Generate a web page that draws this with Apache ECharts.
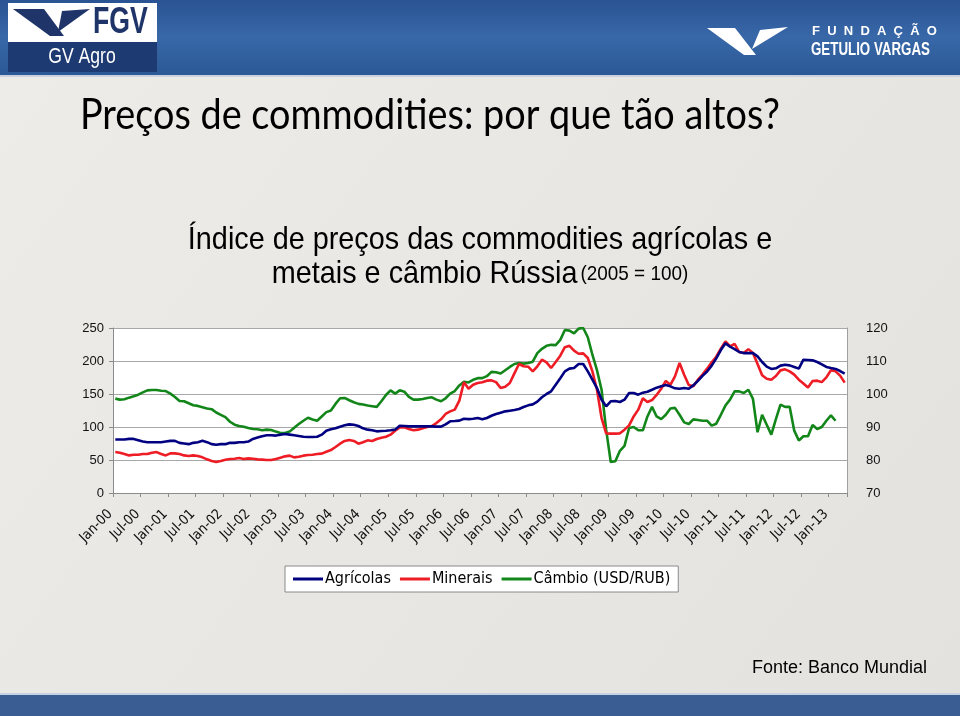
<!DOCTYPE html>
<html><head><meta charset="utf-8">
<script src="https://cdn.jsdelivr.net/npm/echarts@6/dist/echarts.min.js"></script>
<style>html,body{margin:0;padding:0;background:#e8e6e2}#c{width:960px;height:716px}</style>
</head><body><div id="c"></div>
<script>
// ---- data ----
const years = ['00','01','02','03','04','05','06','07','08','09','10','11','12','13'];
const monthNames = ['Jan','Fev','Mar','Abr','Mai','Jun','Jul','Ago','Set','Out','Nov','Dez'];
const categories = [];
for (const y of years) for (const m of monthNames) { if (categories.length < 160) categories.push(m + '-' + y); }

const agricolas = [
81,81,81,82,82,80,78,77,77,77,77,78,79,79,76,75,74,76,77,79,77,74,73,74,74,76,76,77,77,78,82,84,86,
87.4,87.4,87,88.4,89.4,88.4,87.4,86.4,85.3,84.8,84.8,85.3,88.4,94.4,96.5,98,100.5,102.5,104,103.5,101.5,98,96,95,93.4,94,94.4,95,96,102,
101.5,101,101,101,101,101,101,100.5,100.5,104,108.6,109,109.6,112.6,112,112.6,113.6,111.6,113.6,117,119.7,121.7,123.7,124.7,125.7,127.3,130.3,132.8,134.3,138.4,145,150,
154,164,174,184.3,188.4,189.4,195.4,195.4,184.3,171.7,159,141.4,131.3,139,139.4,137.9,141.4,151.5,151.5,149,152,153.5,156.5,159.6,161.6,163.6,161.6,158.6,158,159,158,
163,170,177.5,184,193,204,216.6,227,221.7,218,213.6,212,212,212,207,198.5,191.4,188,189,193,194.4,193.4,191,188.4,202,201.5,201,198.5,195,191,189.4,188,184.8,180.8
];
const minerais = [
62,61,59,57,58,58,59,59,61,62,59,57,60,60,59,57,56,57,56,54,51,48.5,47,48.5,50.5,51.5,52,53,51.5,52.5,52,51,50.5,
50,50,51.5,53.5,55.5,56.6,54,55,56.6,57.6,58,59,59.6,62.6,65,69.7,74.7,78.8,80.3,78.8,74.7,76.8,79.8,78.8,81.8,83.8,85.3,88.4,94.4,99.5,
99.5,97,95,96,98,100,101.5,106,111.6,119.7,123.7,126.3,140,168,158,164,166.6,167.7,170.2,170.7,168,159,161,166.6,181.3,195.4,192,191.4,184.3,192,202,198,
189.4,198.5,208,221,223,215.6,211,211.6,204.5,184.3,156.5,113.6,90.4,90,90,90.4,96,102.5,116,126.3,143.4,137.9,140.9,148.5,158,169.7,164,176.8,197,179.3,163.6,
161.6,171.7,179.3,188.4,198,206.5,218.7,229.8,222,226,213.6,212,218,212,195.4,178.3,173.2,171.7,177.2,185.8,187.4,184.3,179.3,171.7,166,160,169.7,170.2,168,175.2,186,184.3,177.8,167.2
];
const cambio = [
98.6,98.3,98.4,98.9,99.3,99.8,100.5,101.1,101.2,101.2,101,100.9,100.1,99.1,97.9,97.8,97.2,96.6,96.4,96,95.6,95.4,94.4,93.7,93,91.6,90.7,90.3,90.1,89.7,89.4,89.3,89,
89.2,89.1,88.6,88.2,88.2,88.6,89.8,90.9,91.9,92.8,92.3,91.9,93.2,94.5,95,97,98.7,98.8,98.1,97.5,97,96.8,96.5,96.3,96.1,97.8,99.7,101.1,100.1,101.1,
100.7,99.1,98.3,98.3,98.5,98.8,99,98.3,97.8,98.7,100.1,100.9,102.6,103.7,103.5,104.3,104.8,104.8,105.4,106.7,106.6,106.2,107.2,108.2,109.1,109.4,109.2,109.4,109.8,112.4,113.7,114.6,
114.9,114.8,116.4,119.4,119.2,118.4,119.8,120,117.2,111.9,107.2,101.3,89.2,79.4,79.6,82.8,84.3,89.7,90,89,89,93.2,96.1,93.2,92.4,93.7,95.6,95.8,93.7,91.4,90.9,
92.3,92.1,91.9,91.9,90.4,91,93.7,96.5,98.3,100.8,100.8,100.3,101.3,98.5,88.4,93.7,90.7,87.7,92.4,96.8,96.1,96.1,88.9,85.9,87.2,87.2,90.6,89.4,90,91.9,93.5,91.9,null,null
];
const seriesNames = ['Agrícolas','Minerais','Câmbio (USD/RUB)'];
const leftTicks = {min:0, max:250, interval:50};
const rightTicks = {min:70, max:120, interval:10};

// ---- fonts & colours ----
const ARIAL = "'Liberation Sans',Arial,sans-serif";
const COND = "'DejaVu Sans Condensed','Liberation Sans',sans-serif";
const TITLE = "Lato,'Open Sans',sans-serif";
const navy = '#1f3468';

const chart = echarts.init(document.getElementById('c'), null, {renderer:'canvas'});
const option = {
  animation: false,
  backgroundColor: '#e8e6e2',
  graphic: [
    {type:'rect', shape:{x:0,y:0,width:960,height:716}, style:{fill:new echarts.graphic.LinearGradient(0,0,1,1,[{offset:0,color:'#eeece9'},{offset:1,color:'#e4e2de'}])}, z:-10},
    {type:'rect', shape:{x:0,y:0,width:960,height:75}, style:{fill:new echarts.graphic.LinearGradient(0,0,0,1,[{offset:0,color:'#2a5393'},{offset:0.5,color:'#3868a8'},{offset:1,color:'#2b5896'}])}, z:-9},
    {type:'rect', shape:{x:0,y:75,width:960,height:2}, style:{fill:'#c9d2de'}, z:-9},
    // left logo
    {type:'rect', shape:{x:8,y:3,width:149,height:39}, style:{fill:'#ffffff'}, z:-8},
    {type:'rect', shape:{x:8,y:42,width:149,height:30}, style:{fill:'#1d3a73'}, z:-8},
    {type:'polygon', shape:{points:[[13,9],[44,9],[64,36],[50,36]]}, style:{fill:navy}, z:-7},
    {type:'polygon', shape:{points:[[62,11],[90,9],[58,32]]}, style:{fill:navy}, z:-7},
    {type:'text', x:93, y:23, scaleX:0.74, style:{text:'FGV', font:"bold 36px "+ARIAL, fill:navy, textVerticalAlign:'middle'}, z:-7},
    {type:'text', x:82, y:57, scaleX:0.8, style:{text:'GV Agro', font:"22px "+ARIAL, fill:'#ffffff', textAlign:'center', textVerticalAlign:'middle'}, z:-7},
    // right logo
    {type:'polygon', shape:{points:[[707,28],[735,28],[756,55],[744,55]]}, style:{fill:'#ffffff'}, z:-7},
    {type:'polygon', shape:{points:[[760,30],[788,27],[752,49]]}, style:{fill:'#ffffff'}, z:-7},
    {type:'text', x:812, y:31, style:{text:'F  U  N  D  A  Ç  Ã  O', font:"bold 13px "+ARIAL, fill:'#ffffff', textVerticalAlign:'middle'}, z:-7},
    {type:'text', x:811, y:50, scaleX:0.74, style:{text:'GETULIO VARGAS', font:"bold 18px "+ARIAL, fill:'#ffffff', textVerticalAlign:'middle'}, z:-7},
    // slide title
    {type:'text', x:80, y:115, scaleX:0.9, style:{text:'Preços de commodities: por que tão altos?', font:"42px "+TITLE, fill:'#000000', textVerticalAlign:'middle'}},
    // chart title
    {type:'text', x:480, y:240, scaleX:0.9, style:{text:'Índice de preços das commodities agrícolas e', font:"32px "+ARIAL, fill:'#000000', textAlign:'center', textVerticalAlign:'middle'}},
    {type:'text', x:480, y:274, scaleX:0.9, style:{text:'{a|metais e câmbio Rússia} {b|(2005 = 100)}', textAlign:'center', textVerticalAlign:'middle',
      rich:{a:{font:"32px "+ARIAL, fill:'#000000'}, b:{font:"21px "+ARIAL, fill:'#000000'}}}},
    // source
    {type:'text', x:752, y:668, style:{text:'Fonte: Banco Mundial', font:"18px "+ARIAL, fill:'#000000', textVerticalAlign:'middle'}},
    // bottom band
    {type:'rect', shape:{x:0,y:693,width:960,height:2}, style:{fill:'#c5d2e4'}, z:-9},
    {type:'rect', shape:{x:0,y:695,width:960,height:21}, style:{fill:'#3a5d94'}, z:-9}
  ],
  legend: {
    data: seriesNames, left: 285, top: 566,
    backgroundColor:'#ffffff', borderColor:'#8a8a8a', borderWidth:1, padding:[5,8,5,8],
    icon:'rect', itemWidth:30, itemHeight:3, itemGap:9,
    textStyle:{fontFamily:COND, fontSize:16, color:'#000', padding:[0,0,0,-3]}
  },
  grid: {left:113, top:328, width:734, height:165, show:true, backgroundColor:'#ffffff', borderWidth:0, containLabel:false},
  xAxis: {
    type:'category', data: categories, boundaryGap:true,
    axisLine:{show:true, lineStyle:{color:'#8c8c8c', width:1}},
    axisTick:{show:true, interval:5, length:4, lineStyle:{color:'#8c8c8c'}},
    axisLabel:{interval:5, rotate:45, fontFamily:COND, fontSize:14, color:'#111', margin:14, padding:[0,7,0,0]}
  },
  yAxis: [
    {type:'value', min:leftTicks.min, max:leftTicks.max, interval:leftTicks.interval,
     axisLine:{show:true, lineStyle:{color:'#8c8c8c'}}, axisTick:{show:true, length:4, lineStyle:{color:'#8c8c8c'}},
     splitLine:{show:true, lineStyle:{color:'#a8a8a8', width:1}},
     axisLabel:{fontFamily:ARIAL, fontSize:13, color:'#111', margin:9}},
    {type:'value', min:rightTicks.min, max:rightTicks.max, interval:rightTicks.interval, position:'right',
     axisLine:{show:true, lineStyle:{color:'#a0a0a0'}}, axisTick:{show:false}, splitLine:{show:false},
     axisLabel:{fontFamily:ARIAL, fontSize:13, color:'#111', margin:19}}
  ],
  series: [
    {name:seriesNames[0], type:'line', yAxisIndex:0, data:agricolas, symbol:'none', color:'#000080', lineStyle:{width:2.6, color:'#000080'}, z:4},
    {name:seriesNames[1], type:'line', yAxisIndex:0, data:minerais, symbol:'none', color:'#ee1c24', lineStyle:{width:2.6, color:'#ee1c24'}, z:3},
    {name:seriesNames[2], type:'line', yAxisIndex:1, data:cambio, symbol:'none', color:'#13861a', lineStyle:{width:2.6, color:'#13861a'}, z:2}
  ]
};
chart.setOption(option);
</script>
</body></html>
